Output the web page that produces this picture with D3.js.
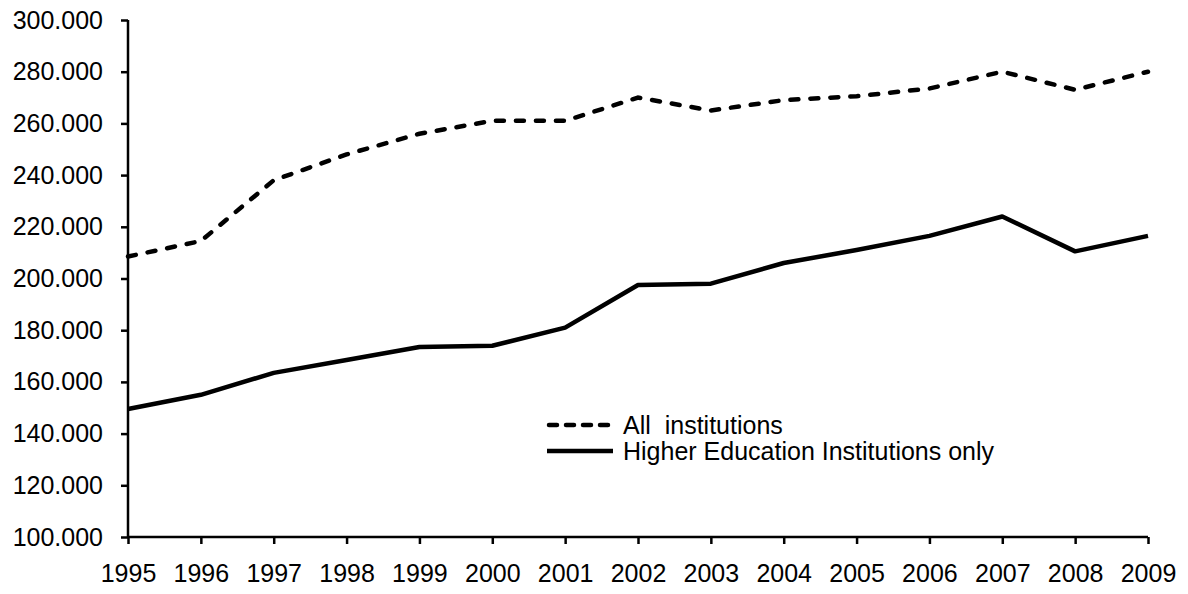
<html>
<head>
<script src="https://cdn.jsdelivr.net/npm/d3@7"></script>
<style>
  body { margin: 0; background: #fff; }
  text { font-family: Arial, "Liberation Sans", sans-serif; fill: #000; }
</style>
</head>
<body>
<svg width="1188" height="594"></svg>
<script>
var years = [1995, 1996, 1997, 1998, 1999, 2000, 2001, 2002, 2003, 2004, 2005, 2006, 2007, 2008, 2009];
// thousands
var allInstitutions = [208.5, 214.5, 238, 248, 256, 261, 261, 270, 265, 269, 270.5, 273.5, 280, 273, 280];
var heiOnly = [149.5, 155, 163.5, 168.5, 173.5, 174, 181, 197.5, 198, 206, 211, 216.5, 224, 210.5, 216.5];
var yTicks = [100, 120, 140, 160, 180, 200, 220, 240, 260, 280, 300];
var seriesNames = ["All  institutions", "Higher Education Institutions only"];

var svg = d3.select("svg"),
    margin = { top: 20, right: 40, bottom: 57, left: 128 },
    width = +svg.attr("width") - margin.left - margin.right,
    height = +svg.attr("height") - margin.top - margin.bottom,
    g = svg.append("g").attr("transform", "translate(" + margin.left + "," + margin.top + ")");

var x = d3.scalePoint().domain(years).range([0, width]);
var y = d3.scaleLinear().domain([100, 300]).range([height, 0]);

var yAxis = g.append("g")
    .call(d3.axisLeft(y).tickValues(yTicks).tickSize(7).tickPadding(18)
        .tickFormat(function (d) { return d + ".000"; }));
yAxis.selectAll("text").style("font-size", "25px");

var xAxis = g.append("g")
    .attr("transform", "translate(0," + height + ")")
    .call(d3.axisBottom(x).tickSize(7).tickPadding(20));
xAxis.selectAll("text").style("font-size", "25px");

[yAxis, xAxis].forEach(function (a) {
  a.select(".domain").attr("stroke", "#000").attr("stroke-width", 2.5);
  a.selectAll(".tick line").attr("stroke", "#000").attr("stroke-width", 2.5);
});
// no outer ticks on the domain lines
yAxis.select(".domain").attr("d", "M0," + height + "V0");
xAxis.select(".domain").attr("d", "M0,0H" + width);

var line = d3.line()
    .x(function (d, i) { return x(years[i]); })
    .y(function (d) { return y(d); });

g.append("path")
    .datum(allInstitutions)
    .attr("fill", "none")
    .attr("stroke", "#000")
    .attr("stroke-width", 4.5)
    .attr("stroke-linecap", "round")
    .attr("stroke-dasharray", "8,12")
    .attr("d", line);

g.append("path")
    .datum(heiOnly)
    .attr("fill", "none")
    .attr("stroke", "#000")
    .attr("stroke-width", 4.5)
    .attr("stroke-linejoin", "round")
    .attr("d", line);

// legend
var legend = svg.append("g").attr("transform", "translate(547,425)");
seriesNames.forEach(function (name, i) {
  var row = legend.append("g").attr("transform", "translate(0," + (i * 26) + ")");
  row.append("line")
      .attr("x1", i === 0 ? 2 : 0).attr("x2", i === 0 ? 64 : 66).attr("y1", 0).attr("y2", 0)
      .attr("stroke", "#000").attr("stroke-width", 4.5)
      .attr("stroke-linecap", i === 0 ? "round" : "butt")
      .attr("stroke-dasharray", i === 0 ? "8,9" : null);
  row.append("text")
      .attr("x", 76).attr("y", 0).attr("dy", "0.35em")
      .style("font-size", "25px")
      .style("white-space", "pre")
      .text(name);
});
</script>
</body>
</html>
